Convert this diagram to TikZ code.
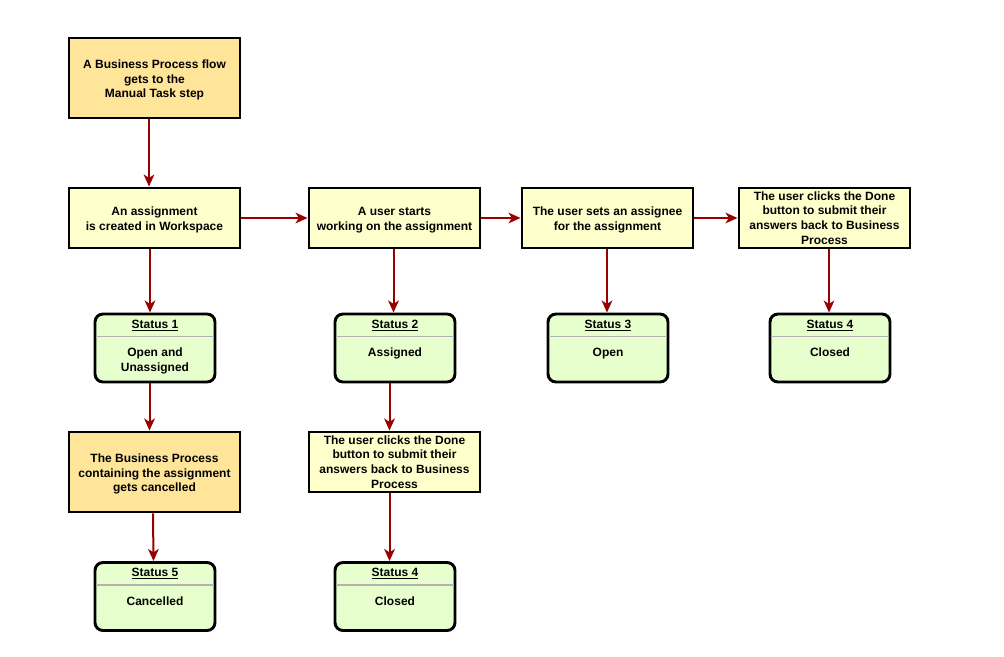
\documentclass[tikz,border=0pt]{standalone}
\usepackage{fontspec}
\setmainfont{Liberation Sans}
\usetikzlibrary{arrows.meta,calc}
\definecolor{orangefill}{HTML}{FFE599}
\definecolor{yellowfill}{HTML}{FFFFCC}
\definecolor{greenfill}{HTML}{E6FFCC}
\definecolor{arrowred}{HTML}{990000}
\definecolor{sepgray}{HTML}{B3B3B3}
\newcommand{\topstrut}{\rule{0pt}{9.6pt}}
\begin{document}
\begin{tikzpicture}[x=0.75pt,y=-0.75pt,
  txt/.style={font=\bfseries\fontsize{9}{11}\selectfont, align=center},
  stepbox/.style={txt, draw, line width=2.2pt, fill=yellowfill, minimum width=128.25pt, minimum height=45pt, inner sep=1pt},
  tallbox/.style={stepbox, fill=orangefill, minimum height=60pt},
  statusbox/.style={draw, line width=2.2pt, rounded corners=6pt, fill=greenfill, minimum width=90pt, minimum height=51pt},
  hdr/.style={txt, anchor=north, inner sep=0pt},
  body/.style={txt, anchor=north, inner sep=0pt},
  sepline/.style={draw=sepgray, line width=0.9pt},
  flow/.style={draw=arrowred, line width=1.5pt, -{Stealth[length=9pt,width=8pt,inset=2.5pt,fill=arrowred]}}
]
\useasboundingbox (0,0) rectangle (1004,657);

% main boxes
\node[tallbox] (top) at (154.5,78) {\topstrut A Business Process flow\\gets to the\\Manual Task step};
\node[stepbox] (a1) at (154.5,218) {\topstrut An assignment\\is created in Workspace};
\node[stepbox] (a2) at (394.5,218) {\topstrut A user starts\\working on the assignment};
\node[stepbox] (a3) at (607.5,218) {\topstrut The user sets an assignee\\for the assignment};
\node[stepbox] (a4) at (824.5,218) {The user clicks the Done\\button to submit their\\answers back to Business\\Process};
\node[tallbox] (cancel) at (154.5,472) {\topstrut The Business Process\\containing the assignment\\gets cancelled};
\node[stepbox] (done2) at (394.5,462) {The user clicks the Done\\button to submit their\\answers back to Business\\Process};

% status boxes
\node[statusbox] (s1) at (155,348) {};
\node[statusbox] (s2) at (395,348) {};
\node[statusbox] (s3) at (608,348) {};
\node[statusbox] (s4a) at (830,348) {};
\node[statusbox] (s5) at (155,596.5) {};
\node[statusbox] (s4b) at (395,596.5) {};

\foreach \s/\h/\b in {s1/Status 1/{Open and\\Unassigned}, s2/Status 2/Assigned, s3/Status 3/Open, s4a/Status 4/Closed, s5/Status 5/Cancelled, s4b/Status 4/Closed}{
  \draw[sepline] ($(\s.north west)+(2,24)$) -- ($(\s.north east)+(-2,24)$);
  \node[hdr] (\s h) at ($(\s.north)+(0,7)$) {\underline{\h}};
  \node[body] (\s b) at ($(\s.north)+(0,35)$) {\b};
}

% connectors
\draw[flow] ($(top.south)+(-5.5,0)$) -- ($(a1.north)+(-5.5,0)$);
\draw[flow] ($(a1.south)+(-4.5,0)$) -- ($(s1.north)+(-5,0)$);
\draw[flow] ($(s1.south)+(-5.5,0)$) -- ($(cancel.north)+(-5,0)$);
\draw[flow] ($(cancel.south)+(-1.5,0)$) -- ($(s5.north)+(-1.5,0)$);
\draw[flow] (a1.east) -- (a2.west);
\draw[flow] (a2.east) -- (a3.west);
\draw[flow] (a3.east) -- (a4.west);
\draw[flow] ($(a2.south)+(-1,0)$) -- ($(s2.north)+(-1.5,0)$);
\draw[flow] ($(s2.south)+(-5.5,0)$) -- ($(done2.north)+(-5,0)$);
\draw[flow] ($(done2.south)+(-5,0)$) -- ($(s4b.north)+(-5.5,0)$);
\draw[flow] ($(a3.south)+(-0.5,0)$) -- ($(s3.north)+(-1,0)$);
\draw[flow] ($(a4.south)+(4.5,0)$) -- ($(s4a.north)+(-1,0)$);
\end{tikzpicture}
\end{document}
